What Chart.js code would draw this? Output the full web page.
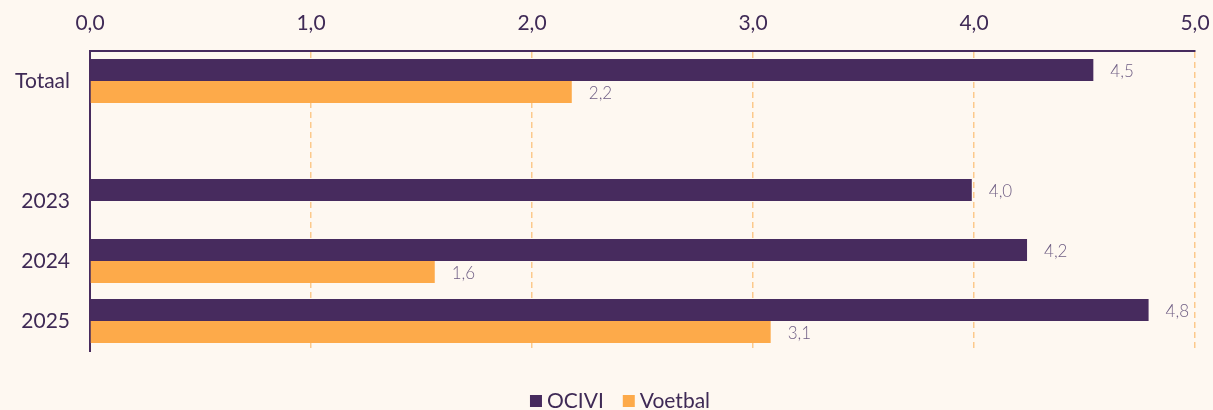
<!DOCTYPE html>
<html>
<head>
<meta charset="utf-8">
<script src="https://cdn.jsdelivr.net/npm/chart.js@4"></script>
<style>
  html, body { margin: 0; padding: 0; background: #fef8f1; }
  #wrap { width: 1213px; height: 410px; position: relative; }
</style>
</head>
<body>
<div id="wrap"><canvas id="chart"></canvas></div>
<script>
const categories = ['Totaal', '', '2023', '2024', '2025'];
const ociviValues = [4.54, null, 3.99, 4.24, 4.79];
const voetbalValues = [2.18, null, null, 1.56, 3.08];
const xTicks = [0, 1, 2, 3, 4, 5];

const purple = '#472b5e';
const orange = '#fdaa4a';
const textColor = '#3f2a56';

function fmt(v) {
    return v.toFixed(1).replace('.', ',');
}

// value labels right of each bar
const valueLabels = {
    id: 'valueLabels',
    afterDatasetsDraw(chart) {
        const ctx = chart.ctx;
        ctx.save();
        ctx.font = '300 17px Lato';
        ctx.fillStyle = '#6f5e84';
        ctx.textAlign = 'left';
        ctx.textBaseline = 'middle';
        chart.data.datasets.forEach((ds, i) => {
            const meta = chart.getDatasetMeta(i);
            meta.data.forEach((bar, j) => {
                const v = ds.data[j];
                if (v === null || v === undefined) return;
                ctx.fillText(fmt(v), bar.x + 17, bar.y + 2);
            });
        });
        ctx.restore();
    }
};

// simple legend under the chart, small gap between box and text
const bottomLegend = {
    id: 'bottomLegend',
    afterDraw(chart) {
        const ctx = chart.ctx;
        ctx.save();
        ctx.font = '21px Lato';
        ctx.textBaseline = 'middle';
        ctx.textAlign = 'left';
        const box = 12, gap = 5, spacing = 19;
        const items = chart.data.datasets.map(ds => ({
            label: ds.label, color: ds.backgroundColor,
            w: box + gap + ctx.measureText(ds.label).width
        }));
        const total = items.reduce((s, it) => s + it.w, 0) + spacing * (items.length - 1);
        let x = 620 - total / 2;
        const y = 401;
        items.forEach(it => {
            ctx.fillStyle = it.color;
            ctx.fillRect(x, y - 6, box, box);
            ctx.fillStyle = textColor;
            ctx.fillText(it.label, x + box + gap, y);
            x += it.w + spacing;
        });
        ctx.restore();
    }
};

new Chart(document.getElementById('chart'), {
    type: 'bar',
    data: {
        labels: categories,
        datasets: [{
            label: 'OCIVI',
            data: ociviValues,
            backgroundColor: purple,
            categoryPercentage: 0.733,
            barPercentage: 1
        }, {
            label: 'Voetbal',
            data: voetbalValues,
            backgroundColor: orange,
            categoryPercentage: 0.733,
            barPercentage: 1
        }]
    },
    options: {
        indexAxis: 'y',
        responsive: true,
        maintainAspectRatio: false,
        animation: false,
        layout: { padding: { left: 0, right: 18, top: 0, bottom: 59 } },
        scales: {
            x: {
                position: 'top',
                min: 0,
                max: 5,
                afterBuildTicks: (scale) => {
                    scale.ticks = xTicks.map(v => ({ value: v }));
                },
                afterFit: (scale) => {
                    scale.height = 51;
                    scale.paddingLeft = 0;
                    scale.paddingRight = 0;
                },
                ticks: {
                    callback: (v) => fmt(v),
                    color: textColor,
                    font: { family: 'Lato', size: 21 },
                    padding: 15
                },
                grid: {
                    drawTicks: false,
                    color: (c) => c.index === 0 ? 'rgba(0,0,0,0)' : '#fcc98c',
                    lineWidth: 1.5
                },
                border: { display: true, color: purple, width: 2, dash: [6, 4] }
            },
            y: {
                afterFit: (scale) => { scale.width = 90; },
                ticks: {
                    color: textColor,
                    font: { family: 'Lato', size: 21 },
                    padding: 20
                },
                grid: { display: false, drawTicks: false },
                border: { display: true, color: purple, width: 2 }
            }
        },
        plugins: {
            legend: { display: false },
            tooltip: { enabled: false }
        }
    },
    plugins: [valueLabels, bottomLegend]
});
</script>
</body>
</html>
